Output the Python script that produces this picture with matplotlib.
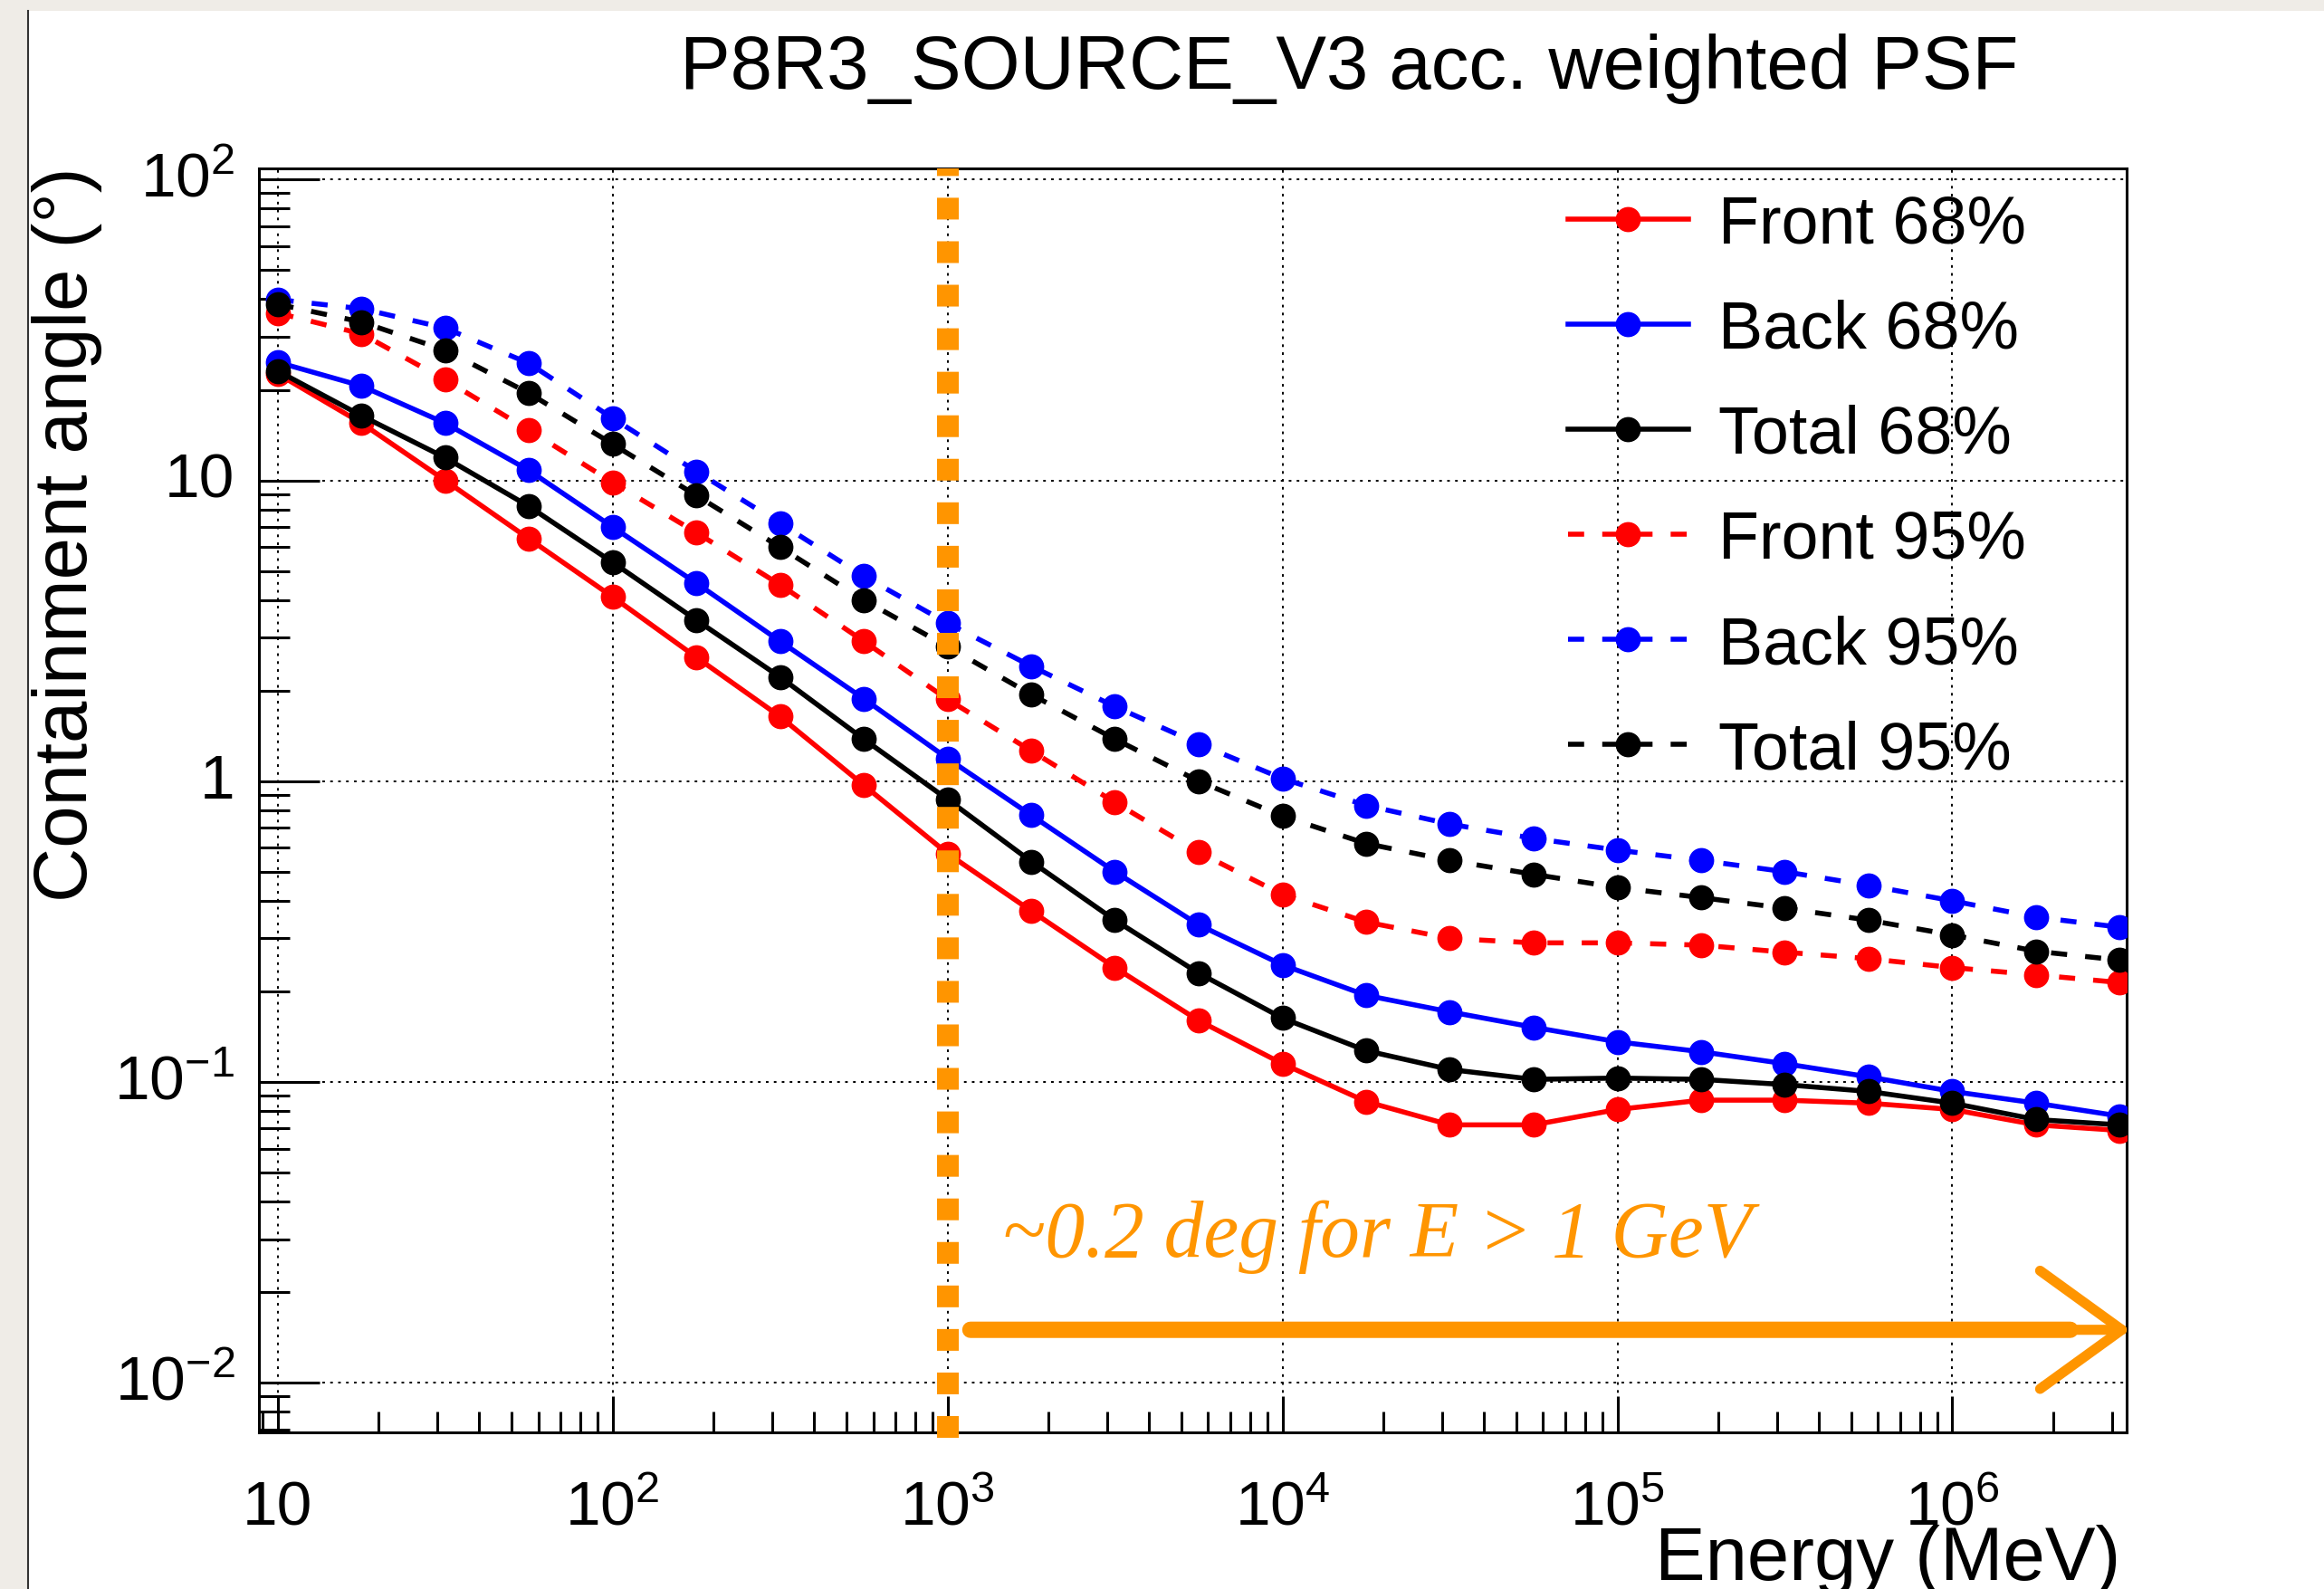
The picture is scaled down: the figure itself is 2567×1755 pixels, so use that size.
import matplotlib
matplotlib.use("Agg")
import matplotlib.pyplot as plt
import numpy as np
from matplotlib.lines import Line2D
from matplotlib.patches import Rectangle
from matplotlib.ticker import FixedFormatter, FixedLocator, LogLocator, NullFormatter

# Energy grid (MeV), quarter-decade bins
energy_mev = [10, 17.8, 31.6, 56.2, 100, 178, 316, 562, 1000, 1780, 3160, 5620,
              1.0e4, 1.78e4, 3.16e4, 5.62e4, 1.0e5, 1.78e5, 3.16e5, 5.62e5,
              1.0e6, 1.78e6, 3.16e6]

# Containment angles (deg)
front_68 = [22.6, 15.5, 10.0, 6.4, 4.1, 2.58, 1.64, 0.97, 0.575, 0.37, 0.24, 0.16,
            0.115, 0.086, 0.072, 0.072, 0.081, 0.087, 0.087, 0.085, 0.081, 0.072, 0.069]
back_68 = [24.7, 20.6, 15.5, 10.8, 7.0, 4.55, 2.92, 1.88, 1.19, 0.77, 0.50, 0.333,
           0.245, 0.194, 0.171, 0.152, 0.136, 0.126, 0.115, 0.104, 0.093, 0.085, 0.077]
total_68 = [23.1, 16.4, 11.9, 8.2, 5.34, 3.43, 2.22, 1.38, 0.87, 0.54, 0.345, 0.23,
            0.163, 0.127, 0.11, 0.102, 0.103, 0.102, 0.098, 0.093, 0.085, 0.075, 0.072]
front_95 = [36.0, 30.7, 21.6, 14.7, 9.85, 6.7, 4.5, 2.92, 1.87, 1.26, 0.85, 0.58,
            0.42, 0.34, 0.30, 0.29, 0.29, 0.285, 0.27, 0.257, 0.24, 0.227, 0.214]
back_95 = [39.9, 37.2, 32.1, 24.5, 16.1, 10.7, 7.2, 4.8, 3.35, 2.41, 1.77, 1.33,
           1.02, 0.83, 0.72, 0.645, 0.59, 0.545, 0.50, 0.45, 0.40, 0.353, 0.327]
total_95 = [38.5, 33.6, 27.1, 19.5, 13.2, 8.9, 6.0, 4.0, 2.8, 1.94, 1.38, 1.0,
            0.765, 0.62, 0.545, 0.49, 0.443, 0.41, 0.378, 0.345, 0.308, 0.272, 0.254]

series_labels = ["Front 68%", "Back 68%", "Total 68%", "Front 95%", "Back 95%", "Total 95%"]

x_ticks = [10, 1e2, 1e3, 1e4, 1e5, 1e6]
x_tick_labels = ["10", "$10^{2}$", "$10^{3}$", "$10^{4}$", "$10^{5}$", "$10^{6}$"]
y_ticks = [1e-2, 1e-1, 1, 10, 1e2]
y_tick_labels = ["$10^{-2}$", "$10^{-1}$", "1", "10", "$10^{2}$"]

# annotation: 1 GeV threshold and arrow
threshold_mev = 1000
note_text = "~0.2 deg for E > 1 GeV"
note_pos = (1460, 0.0264)
arrow_y = 0.0150
arrow_start = 1170
arrow_shaft_end = 2.25e6
arrow_tip = 3.4e6

ORANGE = "#ff9500"

plt.rcParams["font.family"] = ["Liberation Sans", "DejaVu Sans"]
plt.rcParams["mathtext.fontset"] = "custom"
plt.rcParams["mathtext.rm"] = "Liberation Sans"
plt.rcParams["mathtext.it"] = "Liberation Sans:italic"
plt.rcParams["mathtext.bf"] = "Liberation Sans:bold"

fig = plt.figure(figsize=(25.67, 17.56), dpi=100, facecolor="#efece7")
fig.patches.append(Rectangle((0.0121, 0), 0.9879, 0.9926, transform=fig.transFigure,
                             facecolor="white", edgecolor="none", zorder=-10))
fig.add_artist(Line2D([0.0121, 0.0121], [0, 0.9926], transform=fig.transFigure,
                      color="#333333", lw=1.5, zorder=-9))

ax = fig.add_axes([0.1114, 0.0985, 0.9151 - 0.1114, 0.8937 - 0.0985])
ax.set_xscale("log")
ax.set_yscale("log")
ax.set_xlim(10 ** 0.944, 10 ** 6.5205)
ax.set_ylim(10 ** -2.165, 10 ** 2.038)

styles = [
    ("red", "-"), ("blue", "-"), ("black", "-"),
    ("red", "--"), ("blue", "--"), ("black", "--"),
]
all_series = [front_68, back_68, total_68, front_95, back_95, total_95]
for values, label, (color, ls) in zip(all_series, series_labels, styles):
    line, = ax.plot(energy_mev, values, color=color, lw=4, marker="o", markersize=19,
                    label=label, zorder=3)
    if ls == "--":
        line.set_dashes((3.2, 3.6))

ax.xaxis.set_major_locator(FixedLocator(x_ticks))
ax.xaxis.set_major_formatter(FixedFormatter(x_tick_labels))
ax.xaxis.set_minor_locator(LogLocator(base=10, subs=np.arange(2, 10), numticks=30))
ax.xaxis.set_minor_formatter(NullFormatter())
ax.yaxis.set_major_locator(FixedLocator(y_ticks))
ax.yaxis.set_major_formatter(FixedFormatter(y_tick_labels))
ax.yaxis.set_minor_locator(LogLocator(base=10, subs=np.arange(2, 10), numticks=30))
ax.yaxis.set_minor_formatter(NullFormatter())

ax.tick_params(axis="x", which="major", direction="in", length=29, width=2.2,
               pad=73, labelsize=50, top=False)
ax.tick_params(axis="x", which="minor", direction="in", length=16.5, width=2.2, top=False)
ax.tick_params(axis="y", which="major", direction="in", length=48, width=2.2,
               pad=19, labelsize=50, right=False)
ax.tick_params(axis="y", which="minor", direction="in", length=24.5, width=2.2, right=False)
for lab in ax.get_xticklabels():
    lab.set_verticalalignment("baseline")
for lab in ax.get_yticklabels():
    lab.set_verticalalignment("center")

for spine in ax.spines.values():
    spine.set_linewidth(2.2)

ax.set_axisbelow(True)
ax.grid(True, which="major", color="black", linestyle=(0, (1.5, 3)), linewidth=1.4)

ax.legend(loc="upper left", bbox_to_anchor=(0.701, 0.980), frameon=False, fontsize=53,
          handlelength=1.8, handletextpad=0.45, labelspacing=0.64,
          borderpad=0, borderaxespad=0)

# threshold line at 1 GeV: square dashes starting just below the frame
ax.axvline(threshold_mev, ymin=-0.0043, ymax=1.0, color=ORANGE, lw=17.3,
           dashes=(1, 1), zorder=10, clip_on=False)

ax.text(note_pos[0], note_pos[1], note_text, color=ORANGE, fontsize=63,
        family="Liberation Serif", style="italic", va="baseline", ha="left", zorder=11)
ax.annotate("", xy=(arrow_shaft_end, arrow_y), xytext=(arrow_start, arrow_y),
            arrowprops=dict(arrowstyle="-", lw=13, color=ORANGE, shrinkA=0, shrinkB=0),
            annotation_clip=False, zorder=11)
ax.annotate("", xy=(arrow_tip, arrow_y), xytext=(arrow_shaft_end / 1.5, arrow_y),
            arrowprops=dict(arrowstyle="->, head_length=65, head_width=47", lw=8,
                            color=ORANGE, mutation_scale=1, shrinkA=0, shrinkB=0),
            annotation_clip=False, zorder=11)

fig.text(0.5804, 0.9444, "P8R3_SOURCE_V3 acc. weighted PSF", fontsize=60,
         ha="center", va="baseline")
fig.text(0.0287, 0.895, "Containment angle (\u00b0)", fontsize=60, rotation=90,
         ha="center", va="top")
fig.text(0.9124, 0.0063, "Energy (MeV)", fontsize=60, ha="right", va="baseline")

fig.savefig("out.png", dpi=100, facecolor=fig.get_facecolor())
